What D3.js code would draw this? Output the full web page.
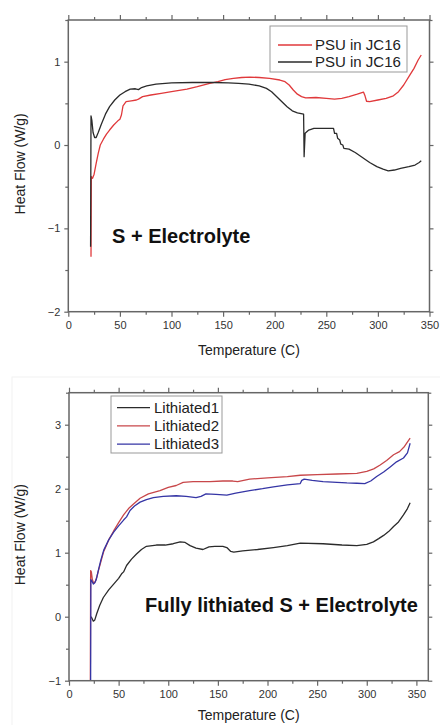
<!DOCTYPE html>
<html><head><meta charset="utf-8">
<script src="https://cdn.jsdelivr.net/npm/d3@7"></script>
<style>html,body{margin:0;padding:0;background:#fff;}svg{display:block;font-family:"Liberation Sans",Arial,sans-serif;}</style>
</head><body>
<svg id="c" width="440" height="725"></svg>
<script>
// ---------- DATA ----------
const xTicks = [0, 50, 100, 150, 200, 250, 300, 350];
const topYTicks = [-2, -1, 0, 1];
const botYTicks = [-1, 0, 1, 2, 3];
const topLegend = ["PSU in JC16", "PSU in JC16"];
const botLegend = ["Lithiated1", "Lithiated2", "Lithiated3"];

// top panel: S + Electrolyte
const psuRed = [[22,-1.34],[22.3,-0.38],[23.5,-0.40],[25,-0.35],[27,-0.22],[29,-0.10],[31,0.0],[34,0.07],[37,0.13],[40,0.18],[44,0.24],[48,0.29],[50,0.31],[51.5,0.36],[53,0.47],[56,0.52],[61,0.53],[66,0.54],[68,0.55],[72,0.58],[80,0.60],[90,0.62],[100,0.64],[115,0.67],[125,0.70],[137,0.74],[145,0.76],[152,0.785],[160,0.80],[168,0.81],[176,0.815],[185,0.81],[195,0.80],[205,0.78],[210,0.76],[214,0.72],[218,0.66],[222,0.61],[226,0.58],[230,0.565],[240,0.57],[250,0.56],[258,0.55],[265,0.56],[272,0.58],[280,0.61],[286,0.635],[287.5,0.59],[289,0.525],[292,0.52],[300,0.54],[308,0.56],[315,0.59],[320,0.64],[325,0.72],[330,0.82],[335,0.92],[339,1.02],[342,1.08]];
const psuBlack = [[21.6,-1.22],[22,0.35],[22.8,0.30],[24,0.15],[25.5,0.09],[27,0.09],[29,0.15],[32,0.25],[36,0.37],[40,0.46],[45,0.54],[50,0.60],[55,0.64],[60,0.67],[65,0.675],[68,0.665],[71,0.69],[76,0.71],[85,0.73],[100,0.745],[120,0.75],[140,0.75],[155,0.745],[165,0.74],[175,0.73],[185,0.71],[192,0.68],[197,0.64],[202,0.58],[207,0.52],[212,0.46],[217,0.41],[222,0.385],[228,0.37],[228.5,-0.14],[229.5,0.14],[233,0.18],[238,0.20],[257,0.20],[258,0.14],[260,0.14],[261,0.08],[263,0.06],[264,0.01],[266,0.0],[267,-0.04],[272,-0.05],[278,-0.09],[285,-0.15],[292,-0.21],[299,-0.26],[305,-0.29],[310,-0.31],[316,-0.30],[322,-0.28],[330,-0.26],[336,-0.24],[340,-0.21],[342,-0.19]];

// bottom panel: Fully lithiated S + Electrolyte
const lith1 = [[22,0.0],[23,-0.02],[24.5,-0.07],[26,-0.05],[28,0.05],[31,0.18],[34.6,0.30],[40,0.42],[45,0.51],[50,0.60],[53,0.67],[55,0.70],[58,0.80],[63,0.90],[68,0.98],[73,1.05],[78,1.10],[88,1.12],[97,1.12],[105,1.14],[112,1.17],[117,1.16],[122,1.11],[128,1.07],[135,1.05],[141,1.09],[147,1.10],[155,1.10],[159,1.08],[163,1.02],[166,1.01],[175,1.03],[190,1.05],[206,1.08],[220,1.11],[233,1.15],[256,1.14],[275,1.12],[290,1.11],[300,1.13],[306.7,1.17],[312,1.22],[317,1.27],[322,1.33],[327,1.41],[332,1.48],[337,1.59],[341,1.69],[343.7,1.78]];
const lith2 = [[21.5,-1.0],[21.8,0.72],[22.5,0.70],[23.5,0.58],[25,0.52],[26.5,0.55],[28,0.62],[30,0.74],[35,1.02],[40,1.20],[45,1.34],[50,1.47],[55,1.59],[60,1.69],[65,1.76],[71.6,1.85],[80,1.92],[91.7,1.97],[100,2.02],[108,2.05],[115,2.10],[125,2.11],[142,2.11],[155,2.12],[165,2.12],[170,2.11],[182,2.15],[200,2.17],[220,2.19],[233,2.21],[250,2.22],[270,2.23],[290,2.24],[300,2.27],[307,2.31],[313.5,2.37],[320,2.44],[327,2.53],[333,2.58],[338,2.66],[343.7,2.79]];
const lith3 = [[21.8,-1.0],[22,0.58],[23,0.56],[24.5,0.51],[26,0.53],[27.5,0.58],[29.5,0.72],[32,0.88],[35,1.04],[40,1.20],[45,1.32],[50,1.42],[55,1.51],[58,1.56],[61.5,1.66],[66,1.73],[71.6,1.79],[78,1.83],[85,1.86],[95,1.88],[108,1.89],[118,1.88],[128,1.86],[133,1.88],[138,1.92],[148,1.91],[159,1.90],[168,1.93],[182,1.97],[195,2.00],[206,2.03],[220,2.06],[233,2.08],[234.5,2.13],[237,2.15],[245,2.13],[256,2.11],[270,2.10],[280,2.09],[290,2.085],[298,2.08],[304,2.12],[310,2.19],[317,2.26],[323.6,2.34],[330,2.42],[337,2.48],[341,2.56],[343.7,2.71]];

// ---------- DRAW ----------
const svg = d3.select("#c");
const frameCol = "#666", textCol = "#333";

function panel(cfg) {
  const g = svg.append("g");
  const x = d3.scaleLinear().domain(cfg.xDomain).range([cfg.left, cfg.right]);
  const y = d3.scaleLinear().domain(cfg.yDomain).range([cfg.bottom, cfg.top]);
  const xMinor = d3.range(0, cfg.xDomain[1] + 0.01, 25).filter(v => v % 50 !== 0);
  const yMinor = d3.range(cfg.yDomain[0], cfg.yDomain[1] + 0.01, 0.5).filter(v => Math.abs(v % 1) > 0.01);
  const styleAxis = (sel) => {
    sel.select(".domain").remove();
    sel.selectAll("line").attr("stroke", frameCol).attr("stroke-width", 1.2);
    sel.selectAll("text").attr("fill", textCol).style("font-size", "11px").style("font-family", '"Liberation Sans",Arial,sans-serif');
  };
  // bottom
  g.append("g").attr("transform", `translate(0,${cfg.bottom})`)
    .call(d3.axisBottom(x).tickValues(xTicks).tickSize(5).tickPadding(5).tickFormat(d3.format("d"))).call(styleAxis);
  g.append("g").attr("transform", `translate(0,${cfg.bottom})`)
    .call(d3.axisBottom(x).tickValues(xMinor).tickSize(3).tickFormat("")).call(styleAxis);
  // top
  g.append("g").attr("transform", `translate(0,${cfg.top})`)
    .call(d3.axisTop(x).tickValues(xTicks).tickSize(5).tickFormat("")).call(styleAxis);
  g.append("g").attr("transform", `translate(0,${cfg.top})`)
    .call(d3.axisTop(x).tickValues(xMinor).tickSize(3).tickFormat("")).call(styleAxis);
  // left
  g.append("g").attr("transform", `translate(${cfg.left},0)`)
    .call(d3.axisLeft(y).tickValues(cfg.yTicks).tickSize(4).tickPadding(4).tickFormat(d3.format("d"))).call(styleAxis);
  g.append("g").attr("transform", `translate(${cfg.left},0)`)
    .call(d3.axisLeft(y).tickValues(yMinor).tickSize(3).tickFormat("")).call(styleAxis);
  // right
  g.append("g").attr("transform", `translate(${cfg.right},0)`)
    .call(d3.axisRight(y).tickValues(cfg.yTicks).tickSize(4).tickFormat("")).call(styleAxis);
  g.append("g").attr("transform", `translate(${cfg.right},0)`)
    .call(d3.axisRight(y).tickValues(yMinor).tickSize(3).tickFormat("")).call(styleAxis);

  const clipId = "clip" + cfg.id;
  svg.append("clipPath").attr("id", clipId).append("rect")
    .attr("x", cfg.left).attr("y", cfg.top).attr("width", cfg.right - cfg.left).attr("height", cfg.bottom - cfg.top);
  const line = d3.line().x(d => x(d[0])).y(d => y(d[1]));
  const lg = g.append("g").attr("clip-path", `url(#${clipId})`);
  cfg.series.forEach(s => {
    lg.append("path").datum(s.data).attr("d", line).attr("fill", "none")
      .attr("stroke", s.color).attr("stroke-width", 1.3).attr("stroke-linejoin", "round");
  });
  // frame
  g.append("rect").attr("x", cfg.left).attr("y", cfg.top).attr("width", cfg.right - cfg.left).attr("height", cfg.bottom - cfg.top)
    .attr("fill", "none").attr("stroke", frameCol).attr("stroke-width", 1.5);

  // legend
  const L = cfg.legend;
  g.append("rect").attr("x", L.x).attr("y", L.y).attr("width", L.w).attr("height", L.h)
    .attr("fill", "#fff").attr("stroke", "#999").attr("stroke-width", 1);
  L.items.forEach((it, i) => {
    const yy = L.y + L.first + i * L.step;
    g.append("line").attr("x1", L.x + L.lx1).attr("x2", L.x + L.lx2).attr("y1", yy).attr("y2", yy)
      .attr("stroke", it.color).attr("stroke-width", 1.3);
    g.append("text").attr("x", L.x + L.tx).attr("y", yy + 5).text(it.label)
      .attr("fill", "#222").style("font-size", "15px");
  });

  // axis titles
  g.append("text").attr("x", (cfg.left + cfg.right) / 2).attr("y", cfg.xTitleY).attr("text-anchor", "middle")
    .attr("fill", "#222").style("font-size", "14px").text("Temperature (C)");
  g.append("text").attr("transform", `translate(25,${(cfg.top + cfg.bottom) / 2 - 2}) rotate(-90)`).attr("text-anchor", "middle")
    .attr("fill", "#222").style("font-size", "14px").text("Heat Flow (W/g)");
  // annotation
  g.append("text").attr("x", cfg.note.x).attr("y", cfg.note.y).text(cfg.note.text)
    .attr("fill", "#111").style("font-size", "20px").style("font-weight", "bold");
}

// faint border of lower image
svg.append("rect").attr("x", 12).attr("y", 377).attr("width", 440).attr("height", 400)
  .attr("fill", "none").attr("stroke", "#f2f2f2").attr("stroke-width", 1);

panel({
  id: "a", left: 68.3, right: 429.5, top: 20, bottom: 311.7,
  xDomain: [0, 350], yDomain: [-2, 1.5], yTicks: topYTicks, xTitleY: 355,
  series: [{data: psuRed, color: "#e0393b"}, {data: psuBlack, color: "#2b2b2b"}],
  legend: {x: 270, y: 26, w: 137, h: 46, first: 19, step: 17, lx1: 8, lx2: 42, tx: 45,
    items: [{label: topLegend[0], color: "#e0393b"}, {label: topLegend[1], color: "#2b2b2b"}]},
  note: {x: 112, y: 243, text: "S + Electrolyte"}
});

panel({
  id: "b", left: 69, right: 428.3, top: 392.7, bottom: 680.7,
  xDomain: [0, 362], yDomain: [-1, 3.5], yTicks: botYTicks, xTitleY: 720,
  series: [{data: lith1, color: "#2b2b2b"}, {data: lith2, color: "#c8474a"}, {data: lith3, color: "#3535a5"}],
  legend: {x: 111, y: 396, w: 111, h: 57, first: 11.7, step: 18.2, lx1: 6, lx2: 39, tx: 43,
    items: [{label: botLegend[0], color: "#2b2b2b"}, {label: botLegend[1], color: "#c8474a"}, {label: botLegend[2], color: "#3535a5"}]},
  note: {x: 145, y: 612, text: "Fully lithiated S + Electrolyte"}
});
</script>
</body></html>
